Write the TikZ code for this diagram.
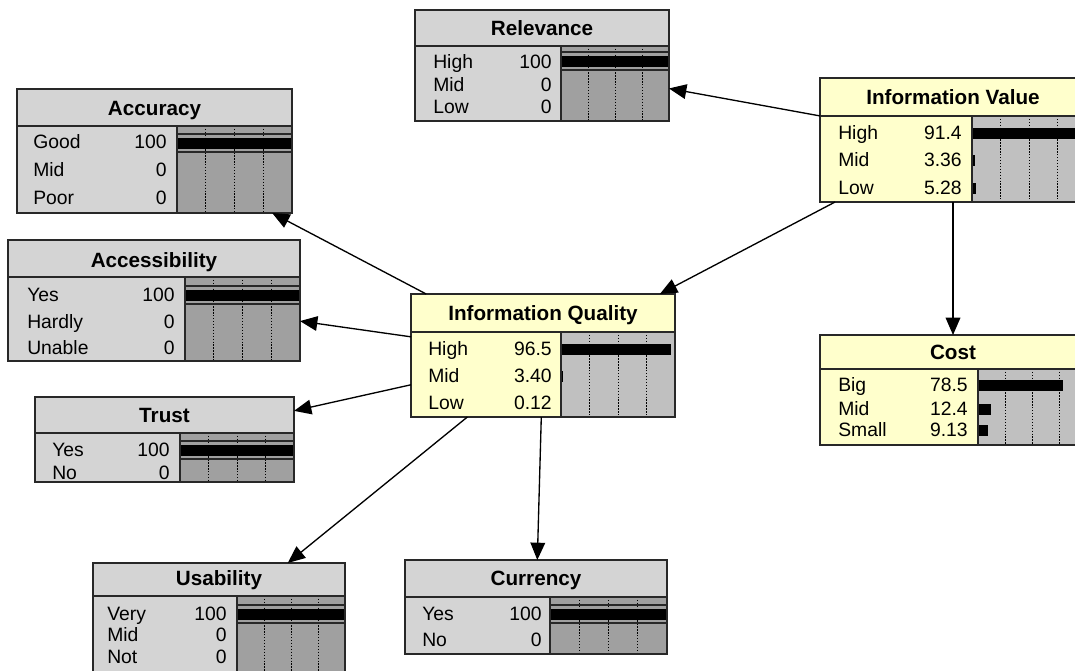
\documentclass[tikz,border=0pt]{standalone}
\usepackage{fontspec}
\setmainfont{Liberation Sans}
\usetikzlibrary{arrows.meta,calc,fit}
\definecolor{bngrey}{RGB}{212,212,212}
\definecolor{bngreybar}{RGB}{160,160,160}
\definecolor{bnyellow}{RGB}{255,255,204}
\definecolor{bnyellowbar}{RGB}{192,192,192}
\definecolor{bnedge}{RGB}{40,40,40}
\tikzset{
  bnline/.style={draw=bnedge, line width=0.9pt},
  bngrid/.style={draw=black, line width=0.6pt, dash pattern=on 1pt off 1.2pt},
  bntitle/.style={inner sep=0pt, font=\fontsize{15.5}{18}\selectfont\bfseries, text height=11pt, text depth=0pt},
  bntext/.style={inner sep=0pt, font=\fontsize{14.5}{17}\selectfont, text height=10.4pt, text depth=0pt},
  bnbar/.style={fill=black},
  bnarrow/.style={draw=black, line width=1pt, -{Triangle[length=13pt,width=11pt]}},
}
% name, x1, y1, x2, y2, ydiv, xbar, fill, barfill
\newcommand{\BNframe}[9]{%
  \fill[#8] (#2,#3) rectangle (#4,#5);
  \fill[#9] (#7,#6) rectangle (#4,#5);
  \foreach \bnf in {0.25,0.5,0.75}{
    \draw[bngrid] ($(#7,#6)!\bnf!(#4,#6)$) -- ($(#7,#5)!\bnf!(#4,#5)$);}
  \draw[bnline] (#2,#3) rectangle (#4,#6);
  \draw[bnline] (#2,#6) rectangle (#7,#5);
  \node[fit={(#2,#3) (#4,#5)}, inner sep=0pt, outer sep=0pt] (#1) {};
}
\newcommand{\BNedge}[4]{\draw[bnline] (#1,#2) rectangle (#3,#4);}
% xbar, xright, y, fraction
\newcommand{\BNbar}[4]{\fill[bnbar] (#1,#3-5.5) rectangle ($(#1,#3+5.5)!#4!(#2,#3+5.5)$);}
\newcommand{\BNfind}[3]{\draw[bnline] (#1,#3-9) -- (#2,#3-9); \draw[bnline] (#1,#3+9) -- (#2,#3+9);}
% name, xlabel, xval, y, label, value
\newcommand{\BNrow}[6]{%
  \node[bntext, anchor=west] (#1l) at (#2,#4) {#5};
  \node[bntext, anchor=east] (#1v) at (#3,#4) {#6};}
\newcommand{\BNtitle}[4]{\node[bntitle] (#1) at (#2,#3) {#4};}
\begin{document}
\begin{tikzpicture}[x=0.75pt, y=-0.75pt]
\useasboundingbox (0,0) rectangle (1075,671);
\clip (0,0) rectangle (1075,671);
\fill[white] (0,0) rectangle (1075,671);

% Relevance
\BNframe{rel}{415}{10}{669}{121}{46}{561}{bngrey}{bngreybar}
\BNbar{561}{669}{61}{1}
\BNfind{561}{669}{61}
\BNedge{561}{46}{669}{121}
\BNtitle{relt}{542}{28}{Relevance}
\BNrow{relh}{433}{552}{62}{High}{100}
\BNrow{relm}{433}{552}{85}{Mid}{0}
\BNrow{rell}{433}{552}{107}{Low}{0}

% Information Value
\BNframe{iv}{820}{78}{1086}{202}{116}{972}{bnyellow}{bnyellowbar}
\BNbar{972}{1086}{133}{0.914}
\BNbar{972}{1086}{160}{0.025}
\BNbar{972}{1086}{188}{0.035}
\BNedge{972}{116}{1086}{202}
\BNtitle{ivt}{953}{97}{Information Value}
\BNrow{ivh}{838}{962}{133}{High}{91.4}
\BNrow{ivm}{838}{962}{160}{Mid}{3.36}
\BNrow{ivl}{838}{962}{188}{Low}{5.28}

% Accuracy
\BNframe{acc}{17}{89}{292}{213}{126}{177}{bngrey}{bngreybar}
\BNbar{177}{292}{143}{1}
\BNfind{177}{292}{143}
\BNedge{177}{126}{292}{213}
\BNtitle{acct}{154.5}{108}{Accuracy}
\BNrow{accg}{33}{167}{142}{Good}{100}
\BNrow{accm}{33}{167}{170}{Mid}{0}
\BNrow{accp}{33}{167}{198}{Poor}{0}

% Accessibility
\BNframe{acs}{8}{240}{300}{361}{277}{185}{bngrey}{bngreybar}
\BNbar{185}{300}{295}{1}
\BNfind{185}{300}{295}
\BNedge{185}{277}{300}{361}
\BNtitle{acst}{154}{260}{Accessibility}
\BNrow{acsy}{27}{175}{295}{Yes}{100}
\BNrow{acsh}{27}{175}{322}{Hardly}{0}
\BNrow{acsu}{27}{175}{348}{Unable}{0}

% Information Quality
\BNframe{iq}{411}{294}{675}{417}{332}{561}{bnyellow}{bnyellowbar}
\BNbar{561}{675}{349}{0.965}
\BNbar{561}{675}{376}{0.02}
\BNedge{561}{332}{675}{417}
\BNtitle{iqt}{543}{313}{Information Quality}
\BNrow{iqh}{428}{552}{349}{High}{96.5}
\BNrow{iqm}{428}{552}{376}{Mid}{3.40}
\BNrow{iql}{428}{552}{403}{Low}{0.12}

% Trust
\BNframe{tru}{35}{397}{294}{482}{433}{180}{bngrey}{bngreybar}
\BNbar{180}{294}{450}{1}
\BNfind{180}{294}{450}
\BNedge{180}{433}{294}{482}
\BNtitle{trut}{164.5}{415}{Trust}
\BNrow{truy}{52}{170}{450}{Yes}{100}
\BNrow{trun}{52}{170}{473}{No}{0}

% Cost
\BNframe{cost}{820}{335}{1086}{445}{369}{978}{bnyellow}{bnyellowbar}
\BNbar{978}{1086}{385}{0.785}
\BNbar{978}{1086}{409}{0.124}
\BNbar{978}{1086}{430}{0.0913}
\BNedge{978}{369}{1086}{445}
\BNtitle{costt}{953}{352}{Cost}
\BNrow{costb}{838}{968}{385}{Big}{78.5}
\BNrow{costm}{838}{968}{409}{Mid}{12.4}
\BNrow{costs}{838}{968}{430}{Small}{9.13}

% Usability
\BNframe{usa}{93}{563}{345}{675}{596}{237}{bngrey}{bngreybar}
\BNbar{237}{345}{614}{1}
\BNfind{237}{345}{614}
\BNedge{237}{596}{345}{675}
\BNtitle{usat}{219}{578}{Usability}
\BNrow{usav}{107}{227}{614}{Very}{100}
\BNrow{usam}{107}{227}{635}{Mid}{0}
\BNrow{usan}{107}{227}{657}{Not}{0}

% Currency
\BNframe{cur}{405}{560}{667}{654}{597}{550}{bngrey}{bngreybar}
\BNbar{550}{667}{614}{1}
\BNfind{550}{667}{614}
\BNedge{550}{597}{667}{654}
\BNtitle{curt}{536}{578}{Currency}
\BNrow{cury}{422}{542}{614}{Yes}{100}
\BNrow{curn}{422}{542}{640}{No}{0}

% connectors
\draw[bnarrow] (iv) -- (rel);
\draw[bnarrow] (iv) -- (iq);
\draw[bnarrow] (iv) -- (cost);
\draw[bnarrow] (iq) -- (acc);
\draw[bnarrow] (iq) -- (acs);
\draw[bnarrow] (iq) -- (tru);
\draw[bnarrow] (iq) -- (usa);
\draw[bnarrow] (iq) -- (cur);
\end{tikzpicture}
\end{document}
